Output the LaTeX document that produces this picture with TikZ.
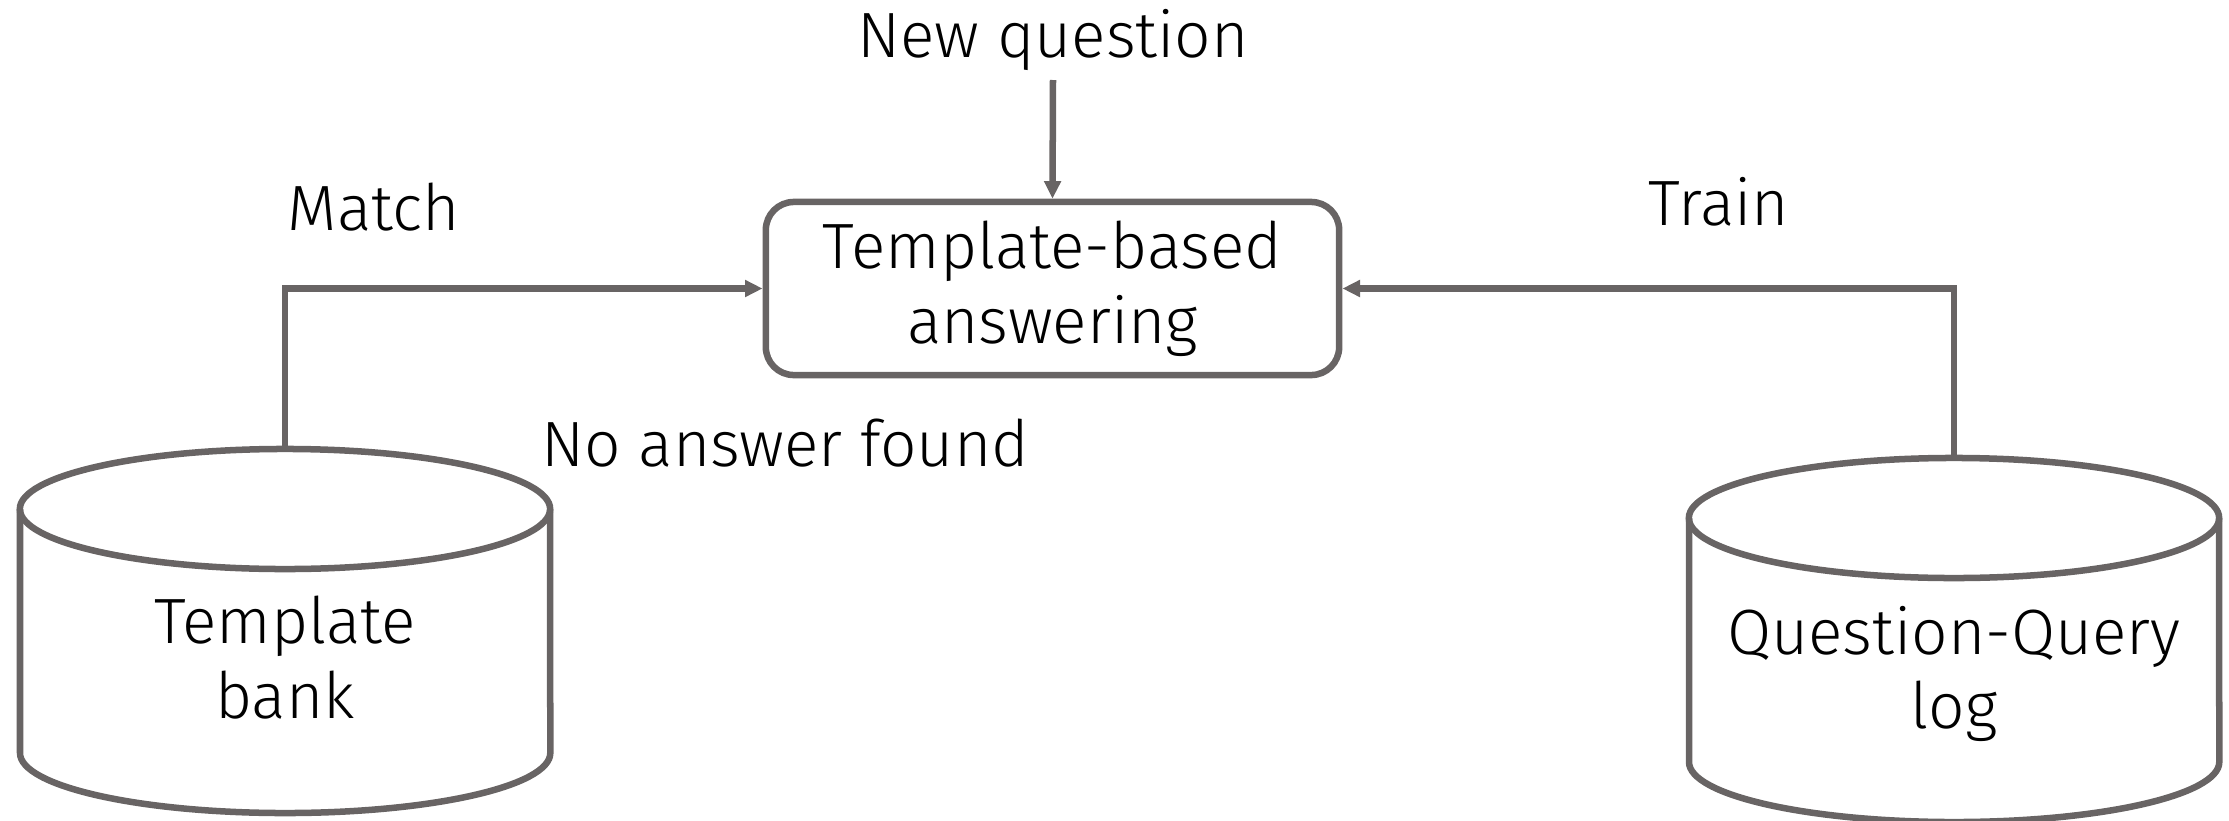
\documentclass[tikz,border=0pt]{standalone}
\usepackage{fontspec}
\setmainfont{Fira Sans Light}
\usetikzlibrary{arrows.meta,calc}
\definecolor{edge}{RGB}{104,100,100}
\begin{document}
\begin{tikzpicture}[x=0.01cm,y=0.01cm,
  every node/.style={font=\fontsize{18.2}{21.3}\selectfont, text=black},
  line/.style={draw=edge, line width=1.85pt},
  flow/.style={line, -{Triangle[length=5pt,width=4.6pt]}},
  procbox/.style={line, rounded corners=0.28cm, minimum width=5.73cm,
    minimum height=1.73cm, inner sep=0pt, align=center},
  label/.style={anchor=base, inner sep=0pt}]
\useasboundingbox (0,0) rectangle (2229,820);

% central processing step
\node[procbox] (tpl) at (1052.5,531.5) {Template-based\\answering};

% left store: template bank
\draw[line] (285,311) ellipse [x radius=2.65cm, y radius=0.6cm];
\draw[line] (20,311) -- (20,67) arc[start angle=180, end angle=360, x radius=2.65cm, y radius=0.6cm] -- (550,311);
\node[align=center, inner sep=0pt] (bank) at (285,162) {Template\\bank};
\coordinate (bankTop) at (285,371);

% right store: question-query log
\draw[line] (1954,302) ellipse [x radius=2.65cm, y radius=0.6cm];
\draw[line] (1689,302) -- (1689,58) arc[start angle=180, end angle=360, x radius=2.65cm, y radius=0.6cm] -- (2219,302);
\node[align=center, inner sep=0pt] (qlog) at (1954,146) {Question-Query\\log};
\coordinate (logTop) at (1954,362);

% labels
\node[label] (newq) at (1053,763) {New question};
\node[label] (match) at (374,590) {Match};
\node[label] (train) at (1719,595) {Train};
\node[label] (noans) at (785,354) {No answer found};

% connectors
\draw[flow] ($(newq.base)+(0,-23)$) -- (tpl.north);
\draw[flow] (bankTop) |- (tpl.west);
\draw[flow] (logTop) |- (tpl.east);
\end{tikzpicture}
\end{document}
